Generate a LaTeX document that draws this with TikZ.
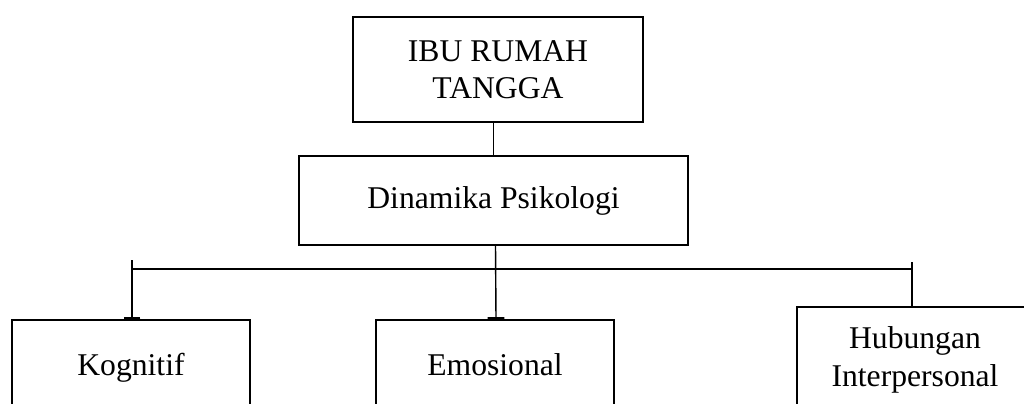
\documentclass[tikz,border=0pt]{standalone}
\usepackage{fontspec}
\setmainfont{Liberation Serif}
\usepackage{tikz}
\usetikzlibrary{arrows.meta,positioning,calc}

\begin{document}
\begin{tikzpicture}[x=0.025cm,y=-0.025cm,
    boxnode/.style={draw=black,line width=1.1pt,inner sep=0pt,align=center,
      font=\fontsize{22.5}{26.5}\selectfont},
    onelinebox/.style={boxnode,text height=15pt,text depth=5pt},
    linkline/.style={line width=1pt},
    linktip/.style={line width=1pt,-{Bar[width=12pt,line width=1.5pt]}}]
    \useasboundingbox (0,0) rectangle (1024,403);
    \clip (0,0) rectangle (1024,403);

    % Top boxes
    \node[boxnode,minimum width=7.25cm,minimum height=2.625cm]
      (ibu) at (498,69.5){IBU RUMAH\\TANGGA};
    \node[boxnode,minimum width=9.725cm,minimum height=2.225cm]
      (dinamika) at (493.5,200.5){Dinamika Psikologi};

    % Bottom boxes (cut by the page edge)
    \node[onelinebox,minimum width=5.95cm,minimum height=2.4cm]
      (kognitif) at (131,368){Kognitif};
    \node[onelinebox,minimum width=5.95cm,minimum height=2.4cm]
      (emosional) at (495,368){Emosional};
    \node[boxnode,minimum width=5.9cm,minimum height=2.65cm]
      (hubungan) at (915,360){Hubungan\\Interpersonal};

    % Connectors
    \coordinate (railL) at (133,269);
    \coordinate (railR) at (912,269);
    \coordinate (kogTop) at (132,260);
    \coordinate (hubTop) at (912,262);

    \draw[linkline] (ibu.south -| dinamika.north) -- (dinamika.north);
    \draw[linkline] (railL) -- (railR);
    \draw[linktip] ($(dinamika.south)+(2,0)$) -- ($(emosional.north)+(1,0)$);
    \draw[linktip] (kogTop) -- (kogTop |- kognitif.north);
    \draw[linkline] (hubTop) -- (hubTop |- hubungan.north);
\end{tikzpicture}
\end{document}
